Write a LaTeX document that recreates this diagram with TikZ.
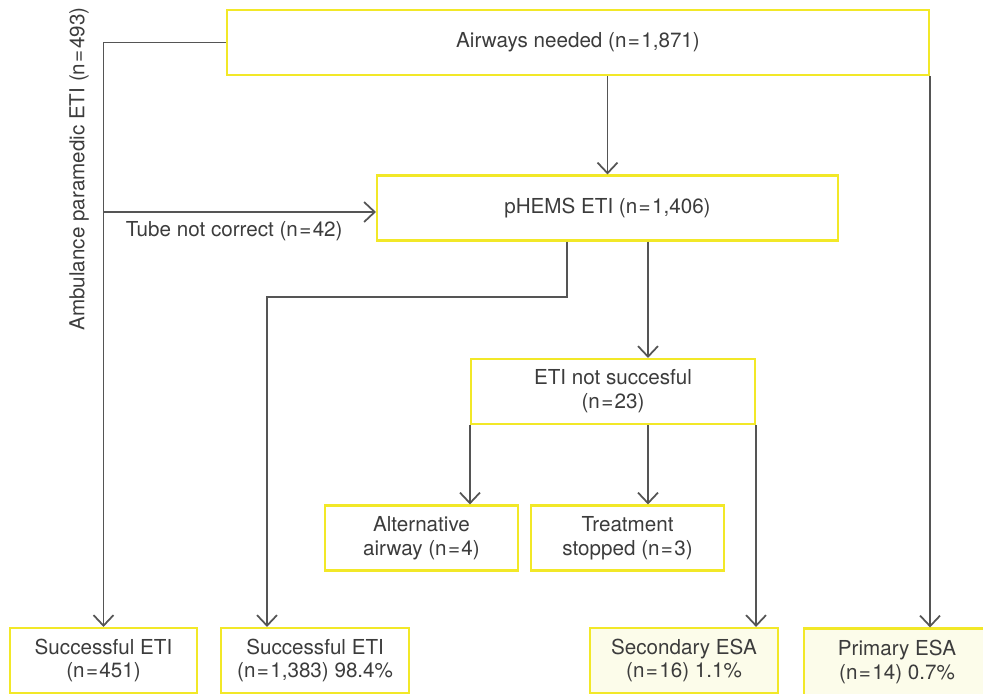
\documentclass[tikz,border=0pt]{standalone}
\usepackage{fontspec}
\setmainfont{TeX Gyre Heros}
\usetikzlibrary{arrows.meta,positioning}
\newdimen\pxu
\pxu=0.03cm
\newcommand{\eqs}{\kern1.2pt=\kern1.2pt}
\definecolor{boxyellow}{RGB}{242,232,40}
\definecolor{esafill}{RGB}{252,252,234}
\definecolor{linegray}{RGB}{85,85,85}
\definecolor{textgray}{RGB}{60,60,60}

\begin{document}
\begin{tikzpicture}[
                x=\pxu, y=-\pxu,
                every node/.append style={text=textgray,font=\fontsize{17.6pt}{20.4pt}\selectfont},
                box/.style={rectangle,draw=boxyellow,line width=1.8pt,fill=white,align=center,minimum height=65\pxu,inner sep=2pt},
                esa/.style={box,fill=esafill},
                line/.style={draw=linegray,line width=1.5pt},
                arr/.style={line,-{Straight Barb[length=9pt,width=17pt]}}
            ]
                \useasboundingbox (0,0) rectangle (983,693);
                \node (need) [box,minimum width=702\pxu] at (578,42.5)   {Airways needed (n\eqs1,871)};
                \node (phems)[box,minimum width=461\pxu] at (607.5,208) {pHEMS ETI (n\eqs1,406)};
                \node (fail) [box,minimum width=284\pxu] at (613,391.5)   {ETI not succesful\\(n\eqs23)};
                \node (alt)  [box,minimum width=193\pxu] at (421.5,538)   {Alternative\\airway (n\eqs4)};
                \node (stop) [box,minimum width=193\pxu,right=11\pxu of alt] {Treatment\\stopped (n\eqs3)};
                \node (ok1)  [box,minimum width=187\pxu] at (103.5,660.5) {Successful ETI\\(n\eqs451)};
                \node (ok2)  [box,minimum width=188\pxu,right=22\pxu of ok1] {Successful ETI\\(n\eqs1,383) 98.4\%};
                \node (sec)  [esa,minimum width=188\pxu] at (684,660.5)   {Secondary ESA\\(n\eqs16) 1.1\%};
                \node (prim) [esa,minimum width=186\pxu,minimum height=67\pxu] at (897,662) {Primary ESA\\(n\eqs14) 0.7\%};
                \node (amb) [rotate=90] at (79,169) {Ambulance paramedic ETI (n\eqs493)};
                \coordinate (c1) at (267,297);
                \coordinate (c2) at (648,0);
                \draw[arr] (need.west) -| (ok1.north);
                \draw[arr] (ok1.north |- 0,212) -- (phems.west |- 0,212) node[pos=0.48,below=4pt] {Tube not correct (n\eqs42)};
                \draw[arr] (phems.north |- need.south) -- (phems.north);
                \draw[arr] (need.south east) -- (need.south east |- prim.north);
                \draw[arr] ([xshift=-40.5\pxu]phems.south) |- (c1) -- (c1 |- ok2.north);
                \draw[arr] (c2 |- phems.south) -- (c2 |- fail.north);
                \draw[arr] (c2 |- fail.south) -- (c2 |- stop.north);
                \draw[arr] (fail.south west) -- (fail.south west |- alt.north);
                \draw[arr] (fail.south east) -- (fail.south east |- sec.north);
            \end{tikzpicture}
\end{document}
